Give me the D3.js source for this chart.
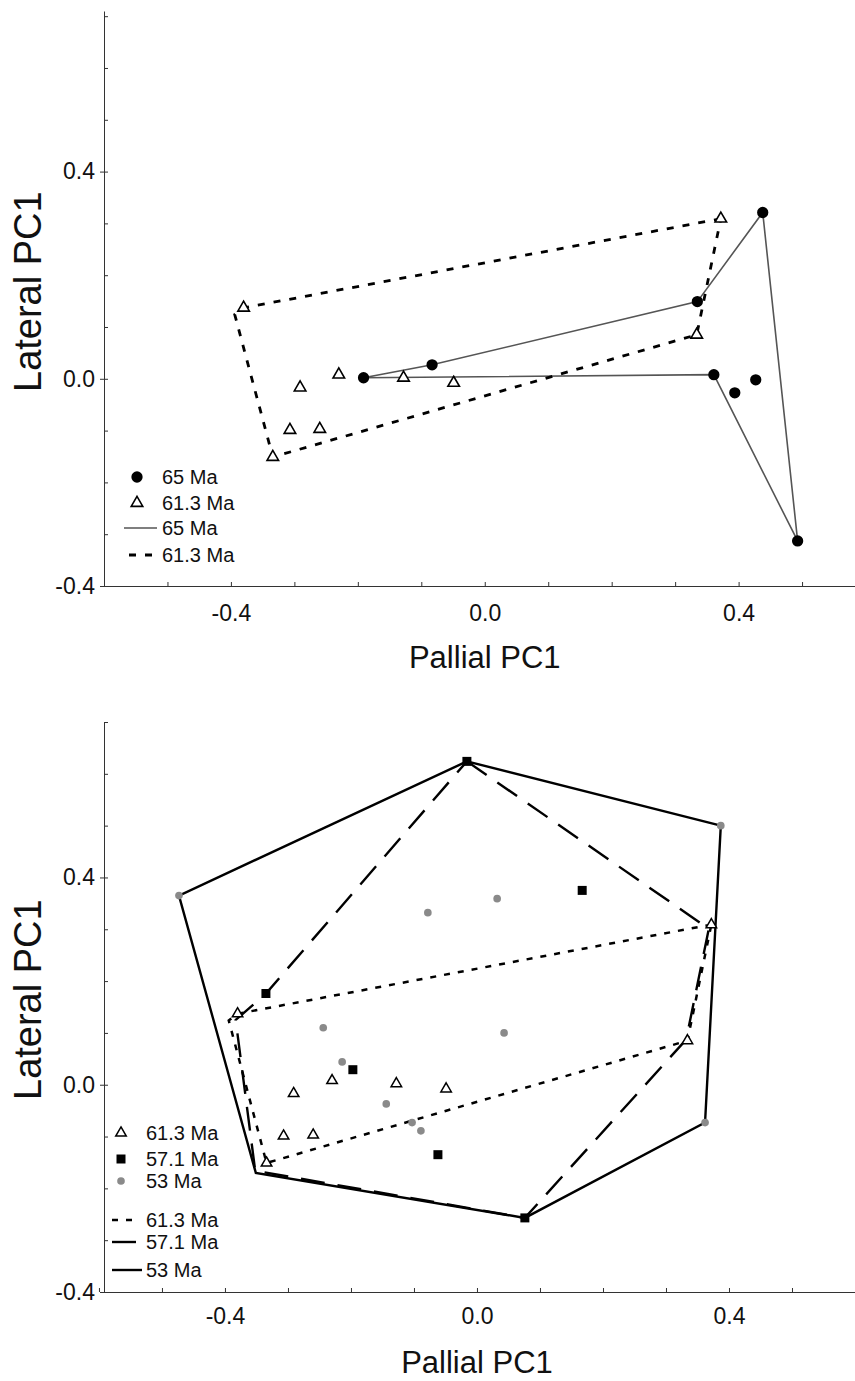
<!DOCTYPE html>
<html>
<head>
<meta charset="utf-8">
<script src="https://cdn.jsdelivr.net/npm/d3@7"></script>
<style>
  body { margin: 0; background: #fff; }
  svg text { font-family: "Liberation Sans", Arial, sans-serif; fill: #111; }
</style>
</head>
<body>
<svg id="chart" width="855" height="1381"></svg>
<script>
// specimens, [Pallial PC1, Lateral PC1]
const ma65 = [[0.438, 0.321], [0.335, 0.149], [-0.083, 0.027], [-0.191, 0.002],
  [0.361, 0.008], [0.427, -0.002], [0.394, -0.027], [0.493, -0.313]];
const ma613 = [[0.372, 0.309], [-0.380, 0.137], [0.334, 0.085], [-0.230, 0.008],
  [-0.128, 0.002], [-0.291, -0.017], [-0.049, -0.008], [-0.307, -0.099],
  [-0.260, -0.097], [-0.334, -0.151]];
const ma571 = [[-0.016, 0.624], [0.167, 0.375], [-0.335, 0.176], [-0.197, 0.029],
  [-0.062, -0.135], [0.076, -0.257]];
const ma53 = [[0.387, 0.500], [-0.473, 0.365], [0.032, 0.359], [-0.078, 0.332],
  [-0.244, 0.110], [0.043, 0.100], [-0.214, 0.044], [-0.144, -0.037],
  [-0.103, -0.073], [-0.089, -0.089], [0.362, -0.073]];

// outlines (convex hulls) as drawn in the figure
const hull65 = [[-0.191, 0.002], [-0.083, 0.027], [0.335, 0.149], [0.438, 0.321],
  [0.493, -0.313], [0.361, 0.008]];
const hull613 = [[0.372, 0.309], [-0.380, 0.137], [-0.394, 0.124], [-0.334, -0.151],
  [0.334, 0.085]];
const hull571 = [[-0.016, 0.624], [0.368, 0.301], [0.332, 0.087], [0.076, -0.257],
  [-0.352, -0.166], [-0.383, 0.125], [-0.335, 0.176]];
const hull53 = [[-0.016, 0.624], [0.387, 0.500], [0.362, -0.073], [0.076, -0.257],
  [-0.351, -0.170], [-0.473, 0.365]];

const majorTicks = [-0.4, 0.0, 0.4];
const xMinor = d3.range(-6, 6).map(i => i / 10);
const yMinor = d3.range(-4, 8).map(i => i / 10);

const svg = d3.select("#chart");

function drawPanel(p) {
  const g = svg.append("g");
  const x = p.x, y = p.y;
  const x0 = x.range()[0], yb = y(-0.4);

  // minor ticks (inside) + axis lines
  g.append("g").attr("transform", `translate(0,${yb})`)
    .call(d3.axisBottom(x).tickValues(xMinor).tickSizeInner(-4).tickSizeOuter(0).tickFormat(""));
  g.append("g").attr("transform", `translate(${x0},0)`)
    .call(d3.axisLeft(y).tickValues(yMinor).tickSizeInner(-4).tickSizeOuter(0).tickFormat(""));

  // labelled ticks
  const xl = g.append("g").attr("transform", `translate(0,${yb})`)
    .call(d3.axisBottom(x).tickValues(majorTicks).tickSize(0).tickPadding(p.xPad)
      .tickFormat(d => d.toFixed(1)));
  const yl = g.append("g").attr("transform", `translate(${x0},0)`)
    .call(d3.axisLeft(y).tickValues(majorTicks).tickSize(4).tickPadding(5)
      .tickFormat(d => d.toFixed(1)));
  [xl, yl].forEach(a => {
    a.select(".domain").remove();
    a.attr("font-family", null).attr("font-size", 23);
  });
  g.selectAll(".domain, .tick line").attr("stroke", "#333").attr("stroke-width", 1);
  g.selectAll(".tick text").attr("fill", "#111");

  g.append("text")
    .attr("x", x(0)).attr("y", p.xTitleY)
    .attr("text-anchor", "middle").attr("font-size", 31)
    .text("Pallial PC1");
  g.append("text")
    .attr("transform", `translate(41,${p.yTitleY}) rotate(-90)`)
    .attr("text-anchor", "start").attr("font-size", 38)
    .text("Lateral PC1");

  const line = d3.line().x(d => x(d[0])).y(d => y(d[1])).curve(d3.curveLinearClosed);
  p.hulls.forEach(h => {
    g.append("path").attr("d", line(h.data))
      .attr("fill", "none").attr("stroke", h.color)
      .attr("stroke-width", h.width).attr("stroke-dasharray", h.dash);
  });

  p.sets.forEach(s => {
    g.append("g").selectAll("path").data(s.data).join("path")
      .attr("transform", d => `translate(${x(d[0])},${y(d[1])})`)
      .attr("d", d3.symbol(s.type, s.size))
      .attr("fill", s.fill).attr("stroke", s.stroke).attr("stroke-width", s.sw);
  });

  // legend
  const lg = g.append("g");
  p.legend.forEach(l => {
    if (l.set) {
      lg.append("path")
        .attr("transform", `translate(${p.legX},${l.y})`)
        .attr("d", d3.symbol(l.set.type, l.set.size))
        .attr("fill", l.set.fill).attr("stroke", l.set.stroke).attr("stroke-width", l.set.sw);
    } else {
      lg.append("line")
        .attr("x1", l.hull.x1).attr("x2", l.hull.x2).attr("y1", l.y).attr("y2", l.y)
        .attr("stroke", l.hull.color).attr("stroke-width", l.hull.width)
        .attr("stroke-dasharray", l.hull.dash);
    }
    lg.append("text").attr("x", p.legText).attr("y", l.y + 7)
      .attr("font-size", 20).text(l.label);
  });
}

// top panel: 65 Ma vs 61.3 Ma
const tri = { type: d3.symbolTriangle, size: 58, fill: "#fff", stroke: "#000", sw: 1.6, data: ma613 };
const circ = { type: d3.symbolCircle, size: 100, fill: "#000", stroke: "none", sw: 0, data: ma65 };
const h65 = { data: hull65, color: "#555", width: 1.6, dash: null, x1: 124, x2: 157 };
const h613 = { data: hull613, color: "#000", width: 2.8, dash: "7,9", x1: 129, x2: 157 };

drawPanel({
  x: d3.scaleLinear().domain([-0.6, 0.585]).range([104, 856]),
  y: d3.scaleLinear().domain([-0.4, 0.71]).range([586, 11]),
  xPad: 19, xTitleY: 668, yTitleY: 392,
  hulls: [h65, h613],
  sets: [circ, tri],
  legX: 137, legText: 162,
  legend: [
    { set: circ, y: 477, label: "65 Ma" },
    { set: tri, y: 503, label: "61.3 Ma" },
    { hull: h65, y: 528, label: "65 Ma" },
    { hull: h613, y: 555, label: "61.3 Ma" }
  ]
});

// bottom panel: 61.3, 57.1 and 53 Ma
const tri2 = { type: d3.symbolTriangle, size: 48, fill: "#fff", stroke: "#000", sw: 1.5, data: ma613 };
const sq = { type: d3.symbolSquare, size: 81, fill: "#000", stroke: "none", sw: 0, data: ma571 };
const gdot = { type: d3.symbolCircle, size: 46, fill: "#8a8a8a", stroke: "none", sw: 0, data: ma53 };
const b613 = { data: hull613, color: "#000", width: 2.5, dash: "6,8", x1: 112, x2: 140 };
const b571 = { data: hull571, color: "#000", width: 2.4, dash: "24,13", x1: 112, x2: 142 };
const b53 = { data: hull53, color: "#000", width: 2.4, dash: null, x1: 112, x2: 142 };

drawPanel({
  x: d3.scaleLinear().domain([-0.592, 0.6]).range([104, 855]),
  y: d3.scaleLinear().domain([-0.4, 0.7]).range([1292, 722]),
  xPad: 16, xTitleY: 1373, yTitleY: 1100,
  hulls: [b53, b571, b613],
  sets: [gdot, tri2, sq],
  legX: 121, legText: 146,
  legend: [
    { set: tri2, y: 1133, label: "61.3 Ma" },
    { set: sq, y: 1159, label: "57.1 Ma" },
    { set: gdot, y: 1181, label: "53 Ma" },
    { hull: b613, y: 1220, label: "61.3 Ma" },
    { hull: b571, y: 1242, label: "57.1 Ma" },
    { hull: b53, y: 1270, label: "53 Ma" }
  ]
});
</script>
</body>
</html>
